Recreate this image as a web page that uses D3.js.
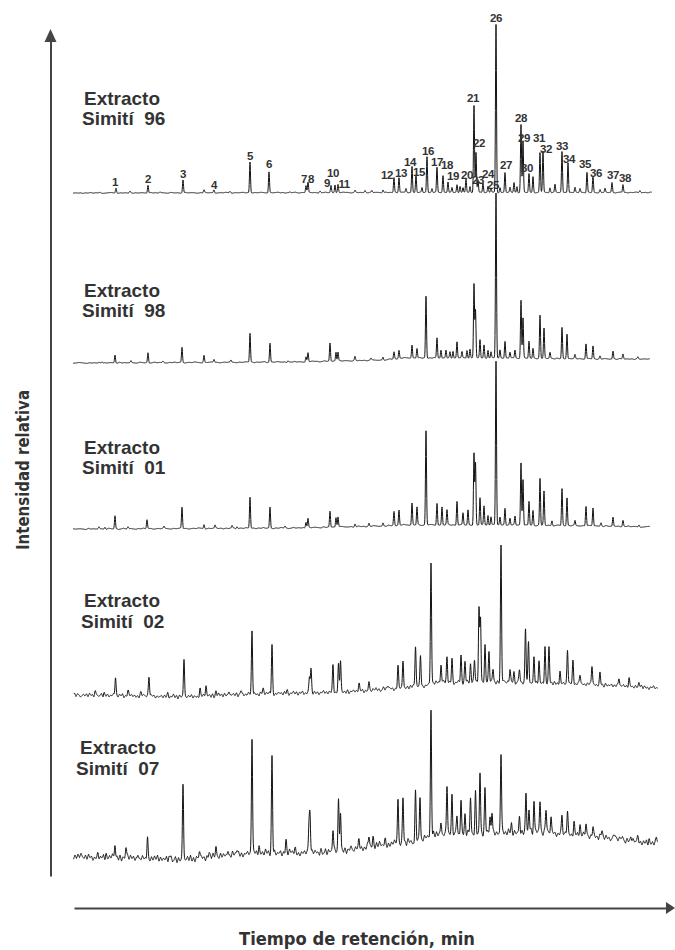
<!DOCTYPE html>
<html>
<head>
<meta charset="utf-8">
<script src="https://cdn.jsdelivr.net/npm/d3@7"></script>
<style>
  body { margin: 0; background: #fff; }
  svg { display: block; }
  .name { font-family: "Liberation Sans", Arial, sans-serif; font-weight: bold; font-size: 19px; fill: #333; white-space: pre; }
  .pk { font-family: "Liberation Sans", Arial, sans-serif; font-weight: bold; font-size: 11.5px; fill: #333; letter-spacing: -0.5px; }
  .title { font-family: "Liberation Sans Narrow", "Arial Narrow", "DejaVu Sans Condensed", "Liberation Sans", sans-serif; font-weight: bold; font-size: 17px; fill: #333; }
</style>
</head>
<body>
<svg id="chart" width="675" height="950"></svg>
<script>
// ---- Sample names ----
const nameLine1 = "Extracto";
const sampleCodes = ["96", "98", "01", "02", "07"];

// ---- Peaks: [retention time (min), intensity, peak number] ----
const peaks96 = [
  [2.7,1,""],[4.3,5,"1"],[5.7,1.5,""],[7.5,8,"2"],[8.7,1,""],[11.0,13,"3"],[13.1,3,""],[14.1,3,"4"],
  [15.7,1.5,""],[17.7,31,"5"],[19.6,21,"6"],[21.7,1,""],[23.3,7,"7"],[23.5,10,"8"],[24.7,1.5,""],
  [25.8,7,"9"],[26.2,8,"10"],[26.5,8,"11"],[28.2,2,""],[29.2,2,""],[29.9,2,""],[31.0,3,""],
  [32.1,15,"12"],[32.6,15,"13"],[33.3,4,""],[33.9,26,"14"],[34.3,18,"15"],[34.9,5,""],[35.4,36,"16"],
  [35.9,4,""],[36.4,25,"17"],[37.0,17,"18"],[37.5,11,"19"],[37.9,5,""],[38.4,8,""],[38.7,6,""],
  [39.0,5,""],[39.3,13,"20"],[39.7,6,""],[40.1,87,"21"],[40.3,40,"22"],[40.5,13,"23"],[41.0,10,"24"],
  [41.5,6,"25"],[41.8,4,""],[42.3,168,"26"],[42.7,5,""],[43.2,20,"27"],[43.7,5,""],[44.1,10,""],
  [44.4,6,""],[44.8,68,"28"],[45.0,51,"29"],[45.6,19,"30"],[46.0,16,""],[46.7,40,"31"],[47.0,41,"32"],
  [47.7,5,""],[48.2,8,""],[48.9,41,"33"],[49.5,30,"34"],[50.2,5,""],[50.7,4,""],[51.4,20,"35"],
  [52.0,16,"36"],[52.7,3,""],[53.2,4,""],[53.9,10,"37"],[55.0,8,"38"],[56.7,2,""]
];
const peaks98 = [
  [2.9,1.5],[4.2,8],[5.8,2],[7.5,10],[9.0,1.5],[10.9,15],[13.1,7],[14.1,3],[15.8,2],[17.7,29],[19.7,19],
  [21.5,1.5],[23.3,5],[23.5,9],[25.7,18],[26.3,9],[26.5,9],[28.2,4],[29.8,2],[31.0,3],[32.1,7],[32.6,8],
  [33.9,13],[34.4,10],[35.3,62],[36.4,20],[36.8,8],[37.3,8],[37.7,6],[38.0,7],[38.4,16],[38.9,6],
  [39.4,8],[39.7,9],[40.1,74],[40.25,48],[40.7,18],[41.1,13],[41.5,8],[41.8,6],[42.3,165],[42.7,8],
  [43.2,17],[43.7,6],[44.2,8],[44.8,58],[45.0,40],[45.6,17],[46.0,10],[46.7,43],[47.1,30],[47.7,6],
  [48.9,31],[49.4,25],[50.2,4],[51.3,15],[52.0,13],[52.7,3],[54.0,8],[55.0,5],[56.5,2]
];
const peaks01 = [
  [2.6,2],[3.2,2],[4.2,13],[5.5,2],[7.4,9],[9.1,2],[10.9,21],[13.1,4],[14.2,3],[15.9,2.5],[16.4,2],
  [17.7,31],[19.7,21],[21.2,2],[23.3,6],[23.5,9],[25.7,16],[26.3,10],[26.5,10],[28.2,3],[29.6,3],
  [31.0,3],[32.1,14],[32.6,15],[33.9,22],[34.4,18],[35.3,94],[36.4,22],[36.9,18],[37.4,15],[38.4,24],
  [39.0,12],[39.5,15],[40.1,72],[40.25,62],[40.7,27],[41.1,19],[41.5,10],[41.8,8],[42.3,164],[42.7,8],
  [43.2,17],[43.7,7],[44.2,9],[44.8,62],[45.0,46],[45.6,24],[46.0,15],[46.7,47],[47.1,34],[47.9,5],
  [48.9,37],[49.4,28],[50.2,5],[51.3,20],[52.0,18],[52.8,3],[54.0,9],[55.0,6],[56.6,2]
];
const peaks02 = [
  [2.2,3],[3.1,3],[4.25,18],[5.5,4],[6.8,3],[7.6,19],[9.5,3],[11.1,39],[12.7,8],[13.3,10],[14.3,5],
  [15.6,5],[16.8,4],[17.9,63],[19.0,4],[19.9,49],[21.4,3],[23.65,15],[23.8,23],[26.0,27],[26.55,28],
  [26.75,31],[28.6,7],[29.6,8],[31.5,4],[32.5,22],[33.0,29],[34.25,40],[34.75,31],[35.8,121],
  [36.8,19],[37.4,25],[37.9,24],[38.8,27],[39.2,20],[39.75,18],[40.15,21],[40.6,73],[40.75,63],
  [41.2,38],[41.6,29],[42.0,13],[42.8,137],[43.7,13],[44.1,10],[44.65,12],[45.25,54],[45.55,42],
  [46.1,26],[46.6,22],[47.2,37],[47.6,35],[48.7,13],[49.45,34],[50.0,23],[50.7,9],[51.9,20],
  [52.7,12],[54.6,9],[55.6,8],[56.6,4]
];
const peaks07 = [
  [2.5,4],[3.3,5],[4.2,13],[5.3,10],[6.5,6],[7.45,24],[9.6,4],[11.0,78],[12.65,8],[13.6,5],[14.3,9],
  [15.5,7],[16.4,5],[17.9,116],[18.6,8],[19.9,97],[21.3,12],[22.2,4],[23.6,25],[23.7,37],[26.0,23],
  [26.55,52],[26.75,40],[28.6,8],[29.6,10],[30.0,9],[31.2,5],[32.5,42],[33.0,45],[34.25,49],
  [34.7,46],[35.8,126],[36.8,12],[37.4,50],[37.9,40],[38.4,18],[38.8,35],[39.2,17],[39.75,35],
  [40.25,40],[40.7,61],[41.2,43],[41.7,15],[41.9,23],[42.8,79],[43.85,7],[44.65,17],[45.3,39],
  [45.6,22],[46.1,33],[46.7,32],[47.3,22],[47.8,17],[48.9,19],[49.45,24],[50.1,12],[50.7,10],
  [51.3,10],[52.0,10],[52.9,6],[54.2,4],[55.8,5],[56.5,4],[57.6,5],[58.35,5]
];

// ---- Baseline drift: [retention time (min), intensity] ----
const drift96 = [[0,0],[30,0.5],[58,0.5]];
const drift98 = [[0,0],[22,1],[31,3],[33,5],[43,5],[53,4],[58,4]];
const drift01 = [[0,0],[22,1],[31,3],[33,4],[43,4],[53,3],[58,2]];
const drift02 = [[0,0],[8,-1],[11,-2],[18,1],[23,2],[27,3],[30,5],[33,7],[35,9],[36,12],[40,13],[43,13],[46,12],[51,11],[55,9],[58.5,7]];
const drift07 = [[0,0],[5,-1],[11,-3],[18,4],[23,4],[27,6],[30,11],[33,14],[35,17],[36,22],[38,23],[43,24],[46,25],[51,22],[54,19],[57,14],[58.5,14]];

// ---- Detector noise, one digit per sampling step (4.5 = no deviation) ----
const noiseLow = "4545354645 5434565435 4546354554 3645455436 5453464554 3546455345 4654354564 5345465435 4564535456 3454654535 4645435465 5346454536 4554364545 3565445346 4535465445 3645354654 4546345565 3454564534 6545435465 4356454535 4645536454 3546454356 4535465445 3654545364";
const noise02 = "4635274816 3527461835 4726381547 3618452736 4827351648 3546273819 4638275146 3728461953 4816372548 3627481539 4736251847 5382746153 4627381549 3718462537 4826351748 3647281539 4728361547 3816472538 4627351849 3748261537 4628371548 3716482539 4827361548 3627481536 4736281547 3628471536 5274836149 3827461538 4615372849 3748261536 5362847159 4827361548 3617482539 4728361549 3846172538 5372846159 4627381546 3817462539 4728361547 3627481538";
const noise07 = "5274615382 4726351847 2638475162 7351846273 5148362758 4173628459 3627481536 2847163958 4162738495 3728461537 2648153749 5372816459 3847261538 4615273849 2736481592 4817362548 3926175384 6172839465 2837461529 4738261547 3628471536 2947163825 4716382957 3825164738 6283745192 3817462935 5273816494 2748361529 4627183945 3816274958 5283719462 2748163957 4619283745 3827461592 5173829465 2836471958 4718263549 3629481735 5172836491 2847361958";

// ---- Run span of each chromatogram (min) ----
const spans = [[0,57.9],[0,57.7],[0,57.7],[0.1,58.5],[0.05,58.5]];

// ---- Axis titles ----
const yTitle = "Intensidad relativa";
const xTitle = "Tiempo de retención, min";

// ---------------- drawing ----------------
const svg = d3.select("#chart");

const layout = {
  baselines: [193, 363, 529, 695, 857],
  nameX: [[84, 82], [84, 82], [84, 82], [84, 81], [80, 76]],
  nameY: [[105, 125], [297, 317], [454, 474], [607, 628], [754, 775]],
  noiseAmp: [0.3, 0.35, 0.4, 0.6, 0.9],
  noiseStep: [0.25, 0.25, 0.25, 0.15, 0.15],
  sigma: [0.05, 0.05, 0.05, 0.055, 0.055]
};

// Nudges for crowded peak numbers [dx, dy] relative to the peak apex
const labelNudge = {
  "1":[-1,0],"4":[0,1],"6":[0,-2],"7":[-2,-1],"8":[3,2],"9":[-4,3],"10":[-2,-6],"11":[6,5],
  "12":[-7,3],"13":[2,1],"14":[-2,1],"15":[3,3],"16":[1,0],"17":[0,0],"18":[4,-5],"19":[5,0],
  "20":[1,1],"21":[-1,-2],"22":[3,-4],"23":[0,6],"24":[5,-3],"25":[5,4],"26":[0,-1],"27":[1,-2],
  "28":[0,-1],"29":[1,2],"30":[-2,0],"31":[-1,-9],"32":[3,3],"34":[1,2],"35":[-2,-3],"36":[3,2],
  "37":[1,-2],"38":[2,-1]
};

const x = d3.scaleLinear().domain([0, 60]).range([73, 673]);

const traces = [
  { peaks: peaks96, drift: drift96, noise: noiseLow },
  { peaks: peaks98, drift: drift98, noise: noiseLow },
  { peaks: peaks01, drift: drift01, noise: noiseLow },
  { peaks: peaks02, drift: drift02, noise: noise02 },
  { peaks: peaks07, drift: drift07, noise: noise07 }
];

function noiseAt(str, amp, step, t) {
  const s = str.replace(/\s/g, "");
  const i = t / step, i0 = Math.floor(i), f = i - i0;
  const a = +s[i0 % s.length], b = +s[(i0 + 1) % s.length];
  return ((a + (b - a) * f) - 4.5) * amp;
}

traces.forEach((tr, k) => {
  const base = layout.baselines[k];
  const y = d3.scaleLinear().domain([0, 170]).range([base, base - 170]);
  const driftScale = d3.scaleLinear().domain(tr.drift.map(d => d[0])).range(tr.drift.map(d => d[1])).clamp(true);
  const sig = layout.sigma[k];
  const [t0, t1] = spans[k];

  // sample grid plus each apex so every peak reaches its value
  let ts = d3.range(t0, t1, 0.02).concat(tr.peaks.map(p => p[0]));
  ts = ts.filter(t => t >= t0 && t <= t1).sort((a, b) => a - b);

  const signal = t => {
    let v = driftScale(t) + noiseAt(tr.noise, layout.noiseAmp[k], layout.noiseStep[k], t + k * 3.1);
    for (const p of tr.peaks) {
      const d = t - p[0];
      if (Math.abs(d) < 0.5) v += p[1] * Math.exp(-d * d / (2 * sig * sig));
    }
    return v;
  };

  const line = d3.line().x(t => x(t)).y(t => y(signal(t)));
  svg.append("path")
    .attr("d", line(ts))
    .attr("fill", "none")
    .attr("stroke", "#141414")
    .attr("stroke-width", 1)
    .attr("stroke-linejoin", "round");

  // sample name
  const nm = svg.append("g");
  nm.append("text").attr("class", "name")
    .attr("x", layout.nameX[k][0]).attr("y", layout.nameY[k][0]).text(nameLine1);
  nm.append("text").attr("class", "name")
    .attr("x", layout.nameX[k][1]).attr("y", layout.nameY[k][1]).text("Simití  " + sampleCodes[k]);

  // peak numbers on the first chromatogram
  if (k === 0) {
    const labeled = tr.peaks.filter(p => p[2]);
    svg.append("g").selectAll("text").data(labeled).join("text")
      .attr("class", "pk")
      .attr("text-anchor", "middle")
      .attr("x", p => x(p[0]) + (labelNudge[p[2]] ? labelNudge[p[2]][0] : 0))
      .attr("y", p => y(driftScale(p[0]) + p[1]) - 2 + (labelNudge[p[2]] ? labelNudge[p[2]][1] : 0))
      .text(p => p[2]);
  }
});

// ---- Axes (arrows, no ticks) ----
const axisColor = "#444";
const yAxisScale = d3.scaleLinear().domain([0, 1]).range([876, 40]);
const gy = svg.append("g").attr("transform", "translate(50.5,0)")
  .call(d3.axisLeft(yAxisScale).tickValues([]).tickSizeOuter(0));
gy.select(".domain").attr("stroke", axisColor).attr("stroke-width", 2);
svg.append("path").attr("d", "M44.5,42 L56.5,42 L50.5,29 Z").attr("fill", axisColor);

const xAxisScale = d3.scaleLinear().domain([0, 1]).range([74, 668]);
const gx = svg.append("g").attr("transform", "translate(0,908)")
  .call(d3.axisBottom(xAxisScale).tickValues([]).tickSizeOuter(0));
gx.select(".domain").attr("stroke", axisColor).attr("stroke-width", 2);
svg.append("path").attr("d", "M666,902 L675,908 L666,914 Z").attr("fill", axisColor);

// ---- Axis titles ----
svg.append("text").attr("class", "title")
  .attr("transform", "translate(29,470) rotate(-90)")
  .attr("text-anchor", "middle")
  .attr("textLength", 160).attr("lengthAdjust", "spacingAndGlyphs")
  .text(yTitle);

svg.append("text").attr("class", "title")
  .attr("x", 357).attr("y", 945)
  .attr("text-anchor", "middle")
  .attr("textLength", 236).attr("lengthAdjust", "spacingAndGlyphs")
  .text(xTitle);
</script>
</body>
</html>
